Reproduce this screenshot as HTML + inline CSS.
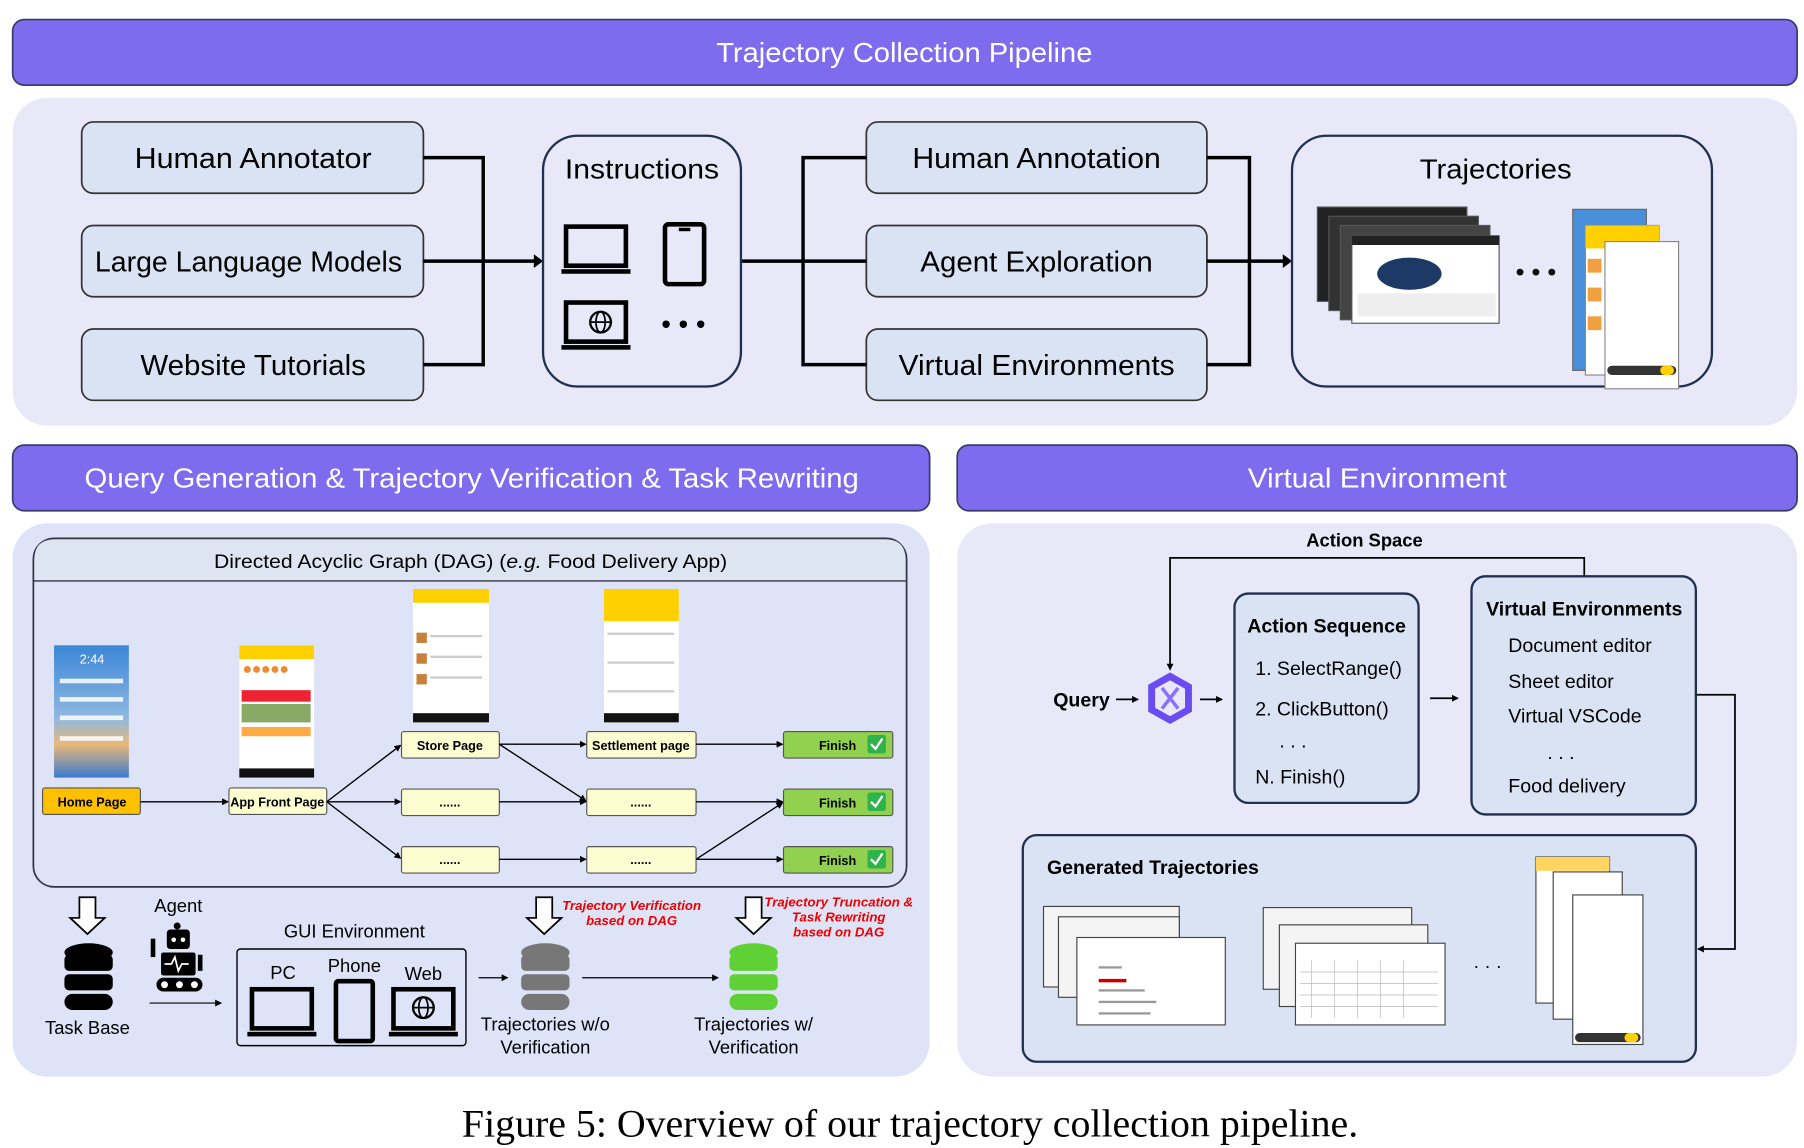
<!DOCTYPE html>
<html><head><meta charset="utf-8"><style>
html,body{margin:0;padding:0;background:#fff}
svg{display:block}
text{font-family:"Liberation Sans",sans-serif}
text.serif{font-family:"Liberation Serif",serif}
</style></head><body>
<svg width="1804" height="1148" viewBox="0 0 1568 998" preserveAspectRatio="none" xmlns="http://www.w3.org/2000/svg">
<defs>
<marker id="as" markerWidth="6" markerHeight="6" refX="5" refY="3" orient="auto" markerUnits="userSpaceOnUse"><path d="M0,0 L6,3 L0,6 z" fill="#000"/></marker>
<g id="laptop"><rect x="4" y="0" width="52" height="34" fill="none" stroke="#000" stroke-width="4"/><rect x="0" y="37" width="60" height="4" fill="#000"/></g>
<g id="db"><ellipse cx="22" cy="8" rx="21" ry="8"/><rect x="1" y="10" width="42" height="14" rx="4"/><rect x="1" y="27" width="42" height="14" rx="4"/><rect x="1" y="44" width="42" height="14" rx="7"/></g>
<g id="darr"><path d="M-7,0 H7 V18 H15 L0,32 L-15,18 H-7 Z" fill="#fff" stroke="#000" stroke-width="1.5"/></g>
<linearGradient id="hg" x1="0" y1="0" x2="0" y2="1"><stop offset="0" stop-color="#3b86d8"/><stop offset="0.55" stop-color="#8fb8e0"/><stop offset="0.75" stop-color="#e8b878"/><stop offset="1" stop-color="#3a7ad0"/></linearGradient>
</defs>

<rect x="11" y="17" width="1551" height="57" rx="10" fill="#7f6bee" stroke="#3b3b6b" stroke-width="1.5"/>
<text x="786" y="54" font-size="24" fill="#fff" text-anchor="middle" textLength="327" lengthAdjust="spacingAndGlyphs">Trajectory Collection Pipeline</text>

<rect x="11" y="85" width="1551" height="285" rx="30" fill="#e9e8f9"/>
<g fill="#dae3f3" stroke="#333" stroke-width="1.5">
<rect x="71" y="106" width="297" height="62" rx="10"/><rect x="71" y="196" width="297" height="62" rx="10"/><rect x="71" y="286" width="297" height="62" rx="10"/>
<rect x="753" y="106" width="296" height="62" rx="10"/><rect x="753" y="196" width="296" height="62" rx="10"/><rect x="753" y="286" width="296" height="62" rx="10"/>
</g>
<g font-size="25" fill="#000" text-anchor="middle">
<text x="220" y="146" textLength="206" lengthAdjust="spacingAndGlyphs">Human Annotator</text>
<text x="216" y="236" textLength="267" lengthAdjust="spacingAndGlyphs">Large Language Models</text>
<text x="220" y="326" textLength="196" lengthAdjust="spacingAndGlyphs">Website Tutorials</text>
<text x="901" y="146" textLength="216" lengthAdjust="spacingAndGlyphs">Human Annotation</text>
<text x="901" y="236" textLength="202" lengthAdjust="spacingAndGlyphs">Agent Exploration</text>
<text x="901" y="326" textLength="240" lengthAdjust="spacingAndGlyphs">Virtual Environments</text>
</g>
<g stroke="#000" stroke-width="3" fill="none">
<path d="M368,137 H420 V317 H368 M368,227 H470" />
<path d="M644,227 H753 M753,137 H698 V317 H753"/>
<path d="M1049,137 H1086 V317 H1049 M1049,227 H1121"/>
</g>
<path d="M464,221 L472,227 L464,233 z"/><path d="M1115,221 L1123,227 L1115,233 z"/>
<rect x="472" y="118" width="172" height="218" rx="30" fill="#e9e8f9" stroke="#1f3050" stroke-width="2"/>
<text x="558" y="155" font-size="24" text-anchor="middle" textLength="134" lengthAdjust="spacingAndGlyphs">Instructions</text>
<use href="#laptop" x="488" y="197"/>
<rect x="578" y="195" width="34" height="52" rx="3" fill="none" stroke="#000" stroke-width="4"/><rect x="590" y="198" width="10" height="3"/>
<use href="#laptop" x="488" y="263"/>
<circle cx="522" cy="280" r="9" fill="none" stroke="#000" stroke-width="2"/><ellipse cx="522" cy="280" rx="4" ry="9" fill="none" stroke="#000" stroke-width="1.5"/><path d="M513,280 H531" stroke="#000" stroke-width="1.5"/>
<text x="594" y="290" font-size="24" text-anchor="middle">• • •</text>
<rect x="1123" y="118" width="365" height="218" rx="30" fill="#e9e8f9" stroke="#1f3050" stroke-width="2"/>
<text x="1300" y="155" font-size="24" text-anchor="middle" textLength="132" lengthAdjust="spacingAndGlyphs">Trajectories</text>
<g stroke="#555" stroke-width="1">
<rect x="1145" y="180" width="130" height="82" fill="#222"/>
<rect x="1155" y="188" width="130" height="82" fill="#333"/>
<rect x="1165" y="196" width="130" height="82" fill="#444"/>
<rect x="1175" y="205" width="128" height="76" fill="#fff"/>
</g>
<rect x="1175" y="205" width="128" height="8" fill="#222"/>
<ellipse cx="1225" cy="238" rx="28" ry="14" fill="#1d3a66"/>
<rect x="1180" y="255" width="120" height="20" fill="#eee"/>
<text x="1335" y="244" font-size="22" text-anchor="middle">• • •</text>
<rect x="1367" y="182" width="64" height="140" fill="#4a8fd9" stroke="#666"/>
<rect x="1378" y="196" width="64" height="130" fill="#fff" stroke="#888"/><rect x="1378" y="196" width="64" height="20" fill="#ffd000"/>
<rect x="1395" y="210" width="64" height="128" fill="#fff" stroke="#888"/>
<rect x="1397" y="318" width="60" height="8" rx="4" fill="#333"/><rect x="1443" y="318" width="12" height="8" rx="4" fill="#ffd000"/>
<g fill="#f0a040"><rect x="1380" y="225" width="12" height="12"/><rect x="1380" y="250" width="12" height="12"/><rect x="1380" y="275" width="12" height="12"/></g>

<rect x="11" y="387" width="797" height="57" rx="10" fill="#7f6bee" stroke="#3b3b6b" stroke-width="1.5"/>
<text x="410" y="424" font-size="24" fill="#fff" text-anchor="middle" textLength="673" lengthAdjust="spacingAndGlyphs">Query Generation &amp; Trajectory Verification &amp; Task Rewriting</text>
<rect x="832" y="387" width="730" height="57" rx="10" fill="#7f6bee" stroke="#3b3b6b" stroke-width="1.5"/>
<text x="1197" y="424" font-size="24" fill="#fff" text-anchor="middle" textLength="225" lengthAdjust="spacingAndGlyphs">Virtual Environment</text>

<rect x="11" y="455" width="797" height="481" rx="30" fill="#dfe3f8"/>
<rect x="29" y="468" width="759" height="303" rx="18" fill="#dfe3f8" stroke="#334" stroke-width="1.5"/>
<path d="M30,505 V486 Q30,469 47,469 H770 Q787,469 787,486 V505 Z" fill="#dde4f2"/>
<path d="M29,505 H788" stroke="#334" stroke-width="1.2"/>
<text x="409" y="494" font-size="17" text-anchor="middle" textLength="446" lengthAdjust="spacingAndGlyphs">Directed Acyclic Graph (DAG) (<tspan font-style="italic">e.g.</tspan> Food Delivery App)</text>
<rect x="47" y="561" width="65" height="115" fill="url(#hg)"/>
<text x="80" y="577" font-size="11" fill="#fff" text-anchor="middle">2:44</text>
<g fill="#fff" opacity="0.85"><rect x="52" y="590" width="55" height="4"/><rect x="52" y="606" width="55" height="4"/><rect x="52" y="622" width="55" height="4"/><rect x="52" y="640" width="55" height="4"/></g>
<rect x="208" y="561" width="65" height="115" fill="#fff"/><rect x="208" y="561" width="65" height="12" fill="#ffd000"/>
<g fill="#f08a30"><circle cx="215" cy="582" r="3"/><circle cx="223" cy="582" r="3"/><circle cx="231" cy="582" r="3"/><circle cx="239" cy="582" r="3"/><circle cx="247" cy="582" r="3"/></g>
<rect x="210" y="600" width="60" height="10" fill="#e23"/><rect x="210" y="612" width="60" height="16" fill="#8a6"/><rect x="210" y="632" width="60" height="8" fill="#fa4"/><rect x="208" y="668" width="65" height="8" fill="#111"/>
<rect x="359" y="512" width="66" height="116" fill="#fff"/><rect x="359" y="512" width="66" height="12" fill="#ffd000"/>
<g fill="#c8803a"><rect x="362" y="550" width="9" height="9"/><rect x="362" y="568" width="9" height="9"/><rect x="362" y="586" width="9" height="9"/></g>
<g fill="#ccc"><rect x="374" y="552" width="45" height="2"/><rect x="374" y="570" width="45" height="2"/><rect x="374" y="588" width="45" height="2"/></g>
<rect x="359" y="620" width="66" height="8" fill="#111"/>
<rect x="525" y="512" width="65" height="116" fill="#fff"/><rect x="525" y="512" width="65" height="28" fill="#ffd000"/>
<g fill="#ccc"><rect x="528" y="550" width="58" height="2"/><rect x="528" y="575" width="58" height="2"/><rect x="528" y="600" width="58" height="2"/></g>
<rect x="525" y="620" width="65" height="8" fill="#111"/>
<g stroke="#555" stroke-width="1">
<rect x="37" y="685" width="85" height="23" rx="2" fill="#ffc000"/>
<rect x="199" y="685" width="85" height="23" rx="2" fill="#fdfdd2"/>
<rect x="349" y="636" width="85" height="23" rx="2" fill="#fdfdd2"/><rect x="349" y="686" width="85" height="23" rx="2" fill="#fdfdd2"/><rect x="349" y="736" width="85" height="23" rx="2" fill="#fdfdd2"/>
<rect x="510" y="636" width="95" height="23" rx="2" fill="#fdfdd2"/><rect x="510" y="686" width="95" height="23" rx="2" fill="#fdfdd2"/><rect x="510" y="736" width="95" height="23" rx="2" fill="#fdfdd2"/>
<rect x="681" y="636" width="95" height="23" rx="2" fill="#92d050"/><rect x="681" y="686" width="95" height="23" rx="2" fill="#92d050"/><rect x="681" y="736" width="95" height="23" rx="2" fill="#92d050"/>
</g>
<g font-size="11" font-weight="bold" text-anchor="middle">
<text x="80" y="701">Home Page</text><text x="241" y="701">App Front Page</text>
<text x="391" y="652">Store Page</text><text x="557" y="652">Settlement page</text>
<text x="391" y="701">......</text><text x="391" y="751">......</text><text x="557" y="701">......</text><text x="557" y="751">......</text>
<text x="728" y="652">Finish</text><text x="728" y="702">Finish</text><text x="728" y="752">Finish</text>
</g>
<g><rect x="754" y="639" width="16" height="16" rx="2" fill="#2db34a"/><rect x="754" y="689" width="16" height="16" rx="2" fill="#2db34a"/><rect x="754" y="739" width="16" height="16" rx="2" fill="#2db34a"/>
<path d="M757,647 l4,4 l6,-9 M757,697 l4,4 l6,-9 M757,747 l4,4 l6,-9" stroke="#fff" stroke-width="2" fill="none"/></g>
<g stroke="#000" stroke-width="1.2" fill="none" marker-end="url(#as)">
<path d="M122,697 H198"/>
<path d="M284,697 L348,648"/><path d="M284,697 H348"/><path d="M284,697 L348,746"/>
<path d="M434,647 H509"/><path d="M434,647 L509,696"/><path d="M434,697 H509"/><path d="M434,747 H509"/>
<path d="M605,647 H680"/><path d="M605,697 H680"/><path d="M605,747 L680,698"/><path d="M605,747 H680"/>
</g>
<use href="#darr" x="76" y="780"/><use href="#darr" x="473" y="780"/><use href="#darr" x="655" y="780"/>
<use href="#db" x="55" y="820" fill="#000"/>
<text x="76" y="899" font-size="16" text-anchor="middle">Task Base</text>
<text x="155" y="793" font-size="16" text-anchor="middle">Agent</text>
<g fill="#000"><circle cx="154" cy="805" r="3"/><rect x="145" y="808" width="20" height="17" rx="3"/><rect x="140" y="828" width="30" height="20" rx="2"/><rect x="136" y="850" width="40" height="12" rx="6"/><rect x="131" y="816" width="4" height="16"/><rect x="172" y="830" width="4" height="14"/></g>
<g fill="#fff"><circle cx="151" cy="817" r="2"/><circle cx="159" cy="817" r="2"/><circle cx="143" cy="856" r="3"/><circle cx="156" cy="856" r="3"/><circle cx="169" cy="856" r="3"/></g>
<path d="M143,838 h6 l3,-6 l3,12 l3,-6 h6" stroke="#fff" stroke-width="1.5" fill="none"/>
<path d="M130,872 H192" stroke="#000" stroke-width="1" marker-end="url(#as)"/>
<text x="308" y="815" font-size="16" text-anchor="middle">GUI Environment</text>
<rect x="206" y="825" width="199" height="84" rx="3" fill="none" stroke="#000" stroke-width="1.2"/>
<text x="246" y="851" font-size="16" text-anchor="middle">PC</text><text x="308" y="845" font-size="16" text-anchor="middle">Phone</text><text x="368" y="852" font-size="16" text-anchor="middle">Web</text>
<use href="#laptop" x="215" y="860"/>
<rect x="292" y="853" width="32" height="52" rx="2" fill="none" stroke="#000" stroke-width="4"/>
<use href="#laptop" x="338" y="860"/>
<circle cx="368" cy="876" r="9" fill="none" stroke="#000" stroke-width="2"/><ellipse cx="368" cy="876" rx="4" ry="9" fill="none" stroke="#000" stroke-width="1.5"/><path d="M359,876 H377" stroke="#000" stroke-width="1.5"/>
<path d="M416,850 H441" stroke="#000" stroke-width="1" marker-end="url(#as)"/>
<use href="#db" x="452" y="820" fill="#777"/>
<path d="M506,850 H624" stroke="#000" stroke-width="1" marker-end="url(#as)"/>
<use href="#db" x="633" y="820" fill="#5fd136"/>
<g font-size="16" text-anchor="middle"><text x="474" y="896">Trajectories w/o</text><text x="474" y="916">Verification</text><text x="655" y="896">Trajectories w/</text><text x="655" y="916">Verification</text></g>
<g font-size="11.5" font-weight="bold" font-style="italic" fill="#e00" text-anchor="middle">
<text x="549" y="791">Trajectory Verification</text><text x="549" y="804">based on DAG</text>
<text x="729" y="788">Trajectory Truncation &amp;</text><text x="729" y="801">Task Rewriting</text><text x="729" y="814">based on DAG</text>
</g>

<rect x="832" y="455" width="730" height="481" rx="30" fill="#e9e8f9"/>
<text x="1186" y="475" font-size="16" font-weight="bold" text-anchor="middle">Action Space</text>
<path d="M1377,501 V485 H1017 V582" stroke="#000" stroke-width="1.5" fill="none" marker-end="url(#as)"/>
<text x="940" y="614" font-size="17" font-weight="bold" text-anchor="middle">Query</text>
<path d="M970,608 H989" stroke="#000" stroke-width="1.5" marker-end="url(#as)"/>
<path d="M1017,588 l16,9 v20 l-16,9 l-16,-9 v-20 z" fill="none" stroke="#6a4cf0" stroke-width="6"/>
<path d="M1010,598 l14,18 M1024,598 l-14,18" stroke="#8a70ff" stroke-width="3"/>
<path d="M1043,608 H1062" stroke="#000" stroke-width="1.5" marker-end="url(#as)"/>
<rect x="1073" y="516" width="160" height="182" rx="12" fill="#dae3f3" stroke="#1f3050" stroke-width="2"/>
<text x="1153" y="550" font-size="17" font-weight="bold" text-anchor="middle">Action Sequence</text>
<g font-size="17"><text x="1091" y="587">1. SelectRange()</text><text x="1091" y="622">2. ClickButton()</text><text x="1112" y="650">. . .</text><text x="1091" y="681">N. Finish()</text></g>
<path d="M1243,607 H1267" stroke="#000" stroke-width="1.5" marker-end="url(#as)"/>
<rect x="1279" y="501" width="195" height="207" rx="12" fill="#dae3f3" stroke="#1f3050" stroke-width="2"/>
<text x="1377" y="535" font-size="17" font-weight="bold" text-anchor="middle">Virtual Environments</text>
<g font-size="17"><text x="1311" y="567">Document editor</text><text x="1311" y="598">Sheet editor</text><text x="1311" y="628">Virtual VSCode</text><text x="1345" y="660">. . .</text><text x="1311" y="689">Food delivery</text></g>
<path d="M1474,604 H1508 V825 H1476" stroke="#000" stroke-width="1.5" fill="none" marker-end="url(#as)"/>
<rect x="889" y="726" width="585" height="197" rx="12" fill="#dae3f3" stroke="#1f3050" stroke-width="2"/>
<text x="910" y="760" font-size="17" font-weight="bold">Generated Trajectories</text>
<g stroke="#444" stroke-width="1" fill="#fff">
<rect x="907" y="788" width="118" height="70" fill="#f4f4f4"/><rect x="920" y="797" width="105" height="70" fill="#f4f4f4"/><rect x="936" y="815" width="129" height="76"/>
<rect x="1098" y="789" width="129" height="71" fill="#f4f4f4"/><rect x="1112" y="804" width="129" height="71" fill="#f4f4f4"/><rect x="1126" y="820" width="130" height="71"/>
<rect x="1335" y="745" width="64" height="127" fill="#fff"/><rect x="1350" y="758" width="60" height="128" fill="#fff"/><rect x="1367" y="778" width="61" height="130"/>
</g>
<rect x="1335" y="745" width="64" height="12" fill="#ffd560"/>
<rect x="955" y="851" width="24" height="3" fill="#c00"/>
<g fill="#999"><rect x="955" y="840" width="20" height="2"/><rect x="955" y="860" width="40" height="2"/><rect x="955" y="870" width="50" height="2"/><rect x="955" y="880" width="45" height="2"/></g>
<g stroke="#bbb" stroke-width="0.6"><path d="M1140,835 V885 M1160,835 V885 M1180,835 V885 M1200,835 V885 M1220,835 V885 M1130,845 H1250 M1130,855 H1250 M1130,865 H1250 M1130,875 H1250"/></g>
<rect x="1369" y="898" width="57" height="8" rx="4" fill="#333"/><rect x="1412" y="898" width="12" height="8" rx="4" fill="#ffd000"/>
<text x="1293" y="845" font-size="16" text-anchor="middle">· · ·</text>

<text class="serif" x="791" y="988" font-size="34" text-anchor="middle" textLength="779" lengthAdjust="spacingAndGlyphs">Figure 5: Overview of our trajectory collection pipeline.</text>
</svg>
</body></html>
